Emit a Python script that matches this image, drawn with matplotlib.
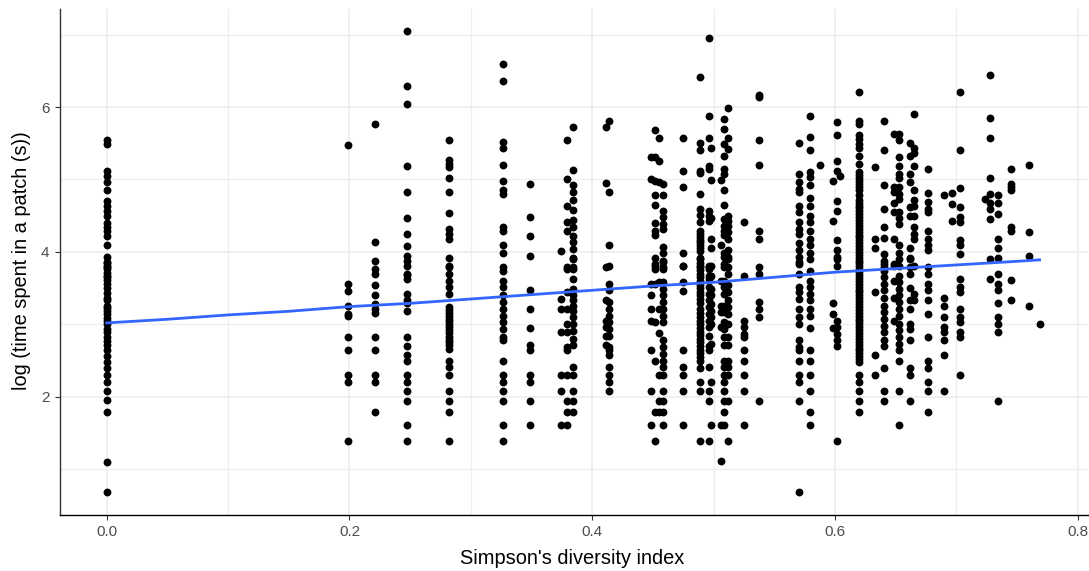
import matplotlib
matplotlib.use("Agg")
import matplotlib.pyplot as plt
import numpy as np

plt.rcParams['font.family'] = ['Liberation Sans', 'DejaVu Sans']

y_0000 = [5.54,5.49,5.12,5.05,4.97,4.85,4.70,4.63,4.57,4.50,4.40,4.34,4.29,4.22,4.09,3.93,3.86,3.79,3.67,3.85,3.81,3.76,3.71,3.66,3.61,3.56,3.50,3.43,3.37,3.33,3.26,3.22,3.18,3.14,3.09,3.04,3.00,2.94,2.89,2.83,2.77,2.71,2.64,2.56,2.48,2.40,2.30,2.20,2.08,1.95,1.79,1.10,0.69]
y_0199 = [5.47,3.56,3.46,3.25,3.14,3.12,2.83,2.65,2.30,2.20,1.39]
y_0221 = [5.77,4.14,3.87,3.76,3.70,3.54,3.41,3.28,3.21,3.16,2.83,2.65,2.30,2.20,1.79]
y_0247 = [7.05,6.29,6.04,5.19,4.83,4.47,4.25,4.08,3.95,3.88,3.81,3.68,3.70,3.63,3.42,3.33,3.30,3.18,2.83,2.70,2.57,2.50,2.30,2.20,2.08,1.94,1.61,1.39]
y_0282 = [5.54,5.27,5.21,5.17,5.02,4.83,4.54,4.32,4.25,4.18,3.91,3.80,3.70,3.79,3.60,3.51,3.42,3.24,3.20,3.16,3.12,3.08,3.04,3.00,2.96,2.92,2.88,2.83,2.79,2.75,2.71,2.66,2.50,2.41,2.30,2.08,1.94,1.79,1.39]
y_0327 = [6.59,6.36,5.52,5.44,5.20,4.98,4.85,4.80,4.34,4.29,4.09,3.99,3.79,3.74,3.60,3.51,3.40,3.31,3.21,3.12,3.03,2.94,2.82,2.78,2.49,2.30,2.20,2.08,1.94,1.61,1.39]
y_0349 = [4.94,4.48,4.22,3.95,3.47,3.21,2.95,2.71,2.64,2.30,2.20,1.94,1.61]
y_0374 = [4.01,3.35,3.21,2.89,2.30,2.08,1.61]
y_0380 = [5.55,5.00,4.64,4.41,4.29,3.79,3.77,3.44,3.21,3.00,2.89,2.69,2.64,2.30,1.94,1.79,1.61]
y_0384 = [5.72,5.13,4.92,4.82,4.72,4.58,4.44,4.34,4.22,4.13,4.04,3.92,3.79,3.90,3.77,3.63,3.49,3.40,3.33,3.26,3.19,3.10,3.00,2.91,2.80,2.71,2.41,2.30,2.08,1.94,1.79]
y_0411 = [5.72,4.95,3.79,3.33,3.05,2.96,2.84,2.72]
y_0414 = [5.81,4.83,4.09,3.81,3.56,3.47,3.31,3.21,3.12,3.03,2.94,2.84,2.69,2.64,2.57,2.41,2.30,2.20,2.08]
y_0449 = [5.31,5.00,3.56,3.41,3.21,3.05,2.65,2.08,1.61]
y_0452 = [5.68,5.31,4.98,4.79,4.65,4.40,4.29,4.23,3.92,3.81,3.83,3.77,3.56,3.03,2.49,1.79,1.39]
y_0455 = [5.57,5.26,4.96,3.58,3.21,2.88,2.30,1.94,1.79]
y_0459 = [4.94,4.79,4.56,4.48,4.39,4.32,4.07,3.99,3.88,3.79,3.86,3.77,3.58,3.49,3.40,3.31,3.21,3.12,3.03,2.78,2.69,2.59,2.50,2.41,2.30,2.08,1.94,1.79,1.61]
y_0475 = [5.57,5.11,4.90,3.99,3.80,3.81,3.59,3.46,2.65,2.41,2.30,2.08,1.61]
y_0489 = [6.42,5.51,5.40,5.12,5.09,4.80,4.59,4.51,4.41,4.29,4.25,4.21,4.17,4.13,4.09,4.05,4.01,3.92,3.79,3.90,3.85,3.80,3.75,3.70,3.65,3.60,3.55,3.50,3.45,3.40,3.35,3.30,3.21,3.15,3.10,3.05,3.00,2.95,2.90,2.85,2.80,2.75,2.70,2.65,2.60,2.55,2.49,2.40,2.20,2.08,1.39]
y_0496 = [6.95,5.87,5.57,5.19,5.15,4.56,4.50,4.43,3.79,3.81,3.77,3.67,3.63,3.51,3.42,3.33,3.24,3.14,3.05,2.96,2.84,2.70,2.64,2.41,2.08,1.94,1.39]
y_0498 = [5.43,4.99,4.47,4.18,4.06,3.81,3.67,3.49,3.40,3.28,3.19,3.10,3.00,2.73,2.20,1.61]
y_0506 = [4.99,4.09,3.60,3.26,3.17,2.96,1.61,1.11]
y_0509 = [5.83,5.70,5.49,5.32,5.15,5.08,4.86,4.65,4.46,4.36,4.29,4.23,3.99,3.93,3.79,3.83,3.60,3.51,3.42,3.26,3.17,3.03,2.94,2.82,2.71,2.50,2.41,2.30,2.20,2.08,1.94,1.79,1.61]
y_0512 = [5.99,5.57,5.42,4.50,4.43,4.36,4.27,4.18,4.02,3.93,3.79,3.90,3.70,3.54,3.44,3.33,3.24,3.14,3.00,2.82,2.71,2.50,2.41,2.30,1.94,1.39]
y_0525 = [4.41,3.67,3.05,2.96,2.87,2.82,2.65,2.49,2.30,2.08,1.61]
y_0538 = [6.17,6.14,5.55,5.20,4.29,4.18,3.79,3.70,3.31,3.21,3.10,1.94]
y_0571 = [5.51,5.08,4.96,4.87,4.82,4.64,4.55,4.41,4.32,4.25,4.12,4.02,3.93,3.83,3.86,3.70,3.51,3.44,3.35,3.21,3.10,3.00,2.78,2.69,2.64,2.49,2.30,2.20,1.94,0.69]
y_0580 = [5.87,5.58,5.40,5.10,5.04,4.92,4.74,4.64,4.50,4.41,4.29,4.18,4.09,3.99,3.90,3.74,3.60,3.51,3.42,3.33,3.21,3.12,2.95,2.65,2.49,2.30,2.08,1.79,1.61]
y_0588 = [5.20]
y_0599 = [4.98,4.42,3.29,3.14,2.95]
y_0601 = [5.79,5.62,5.25,5.11,4.70,4.56,4.16,4.02,3.93,3.81,3.90,3.05,2.96,2.87,2.78,2.70,1.39]
y_0604 = [5.05]
y_0620 = [6.21,5.81,5.77,5.61,5.56,5.49,5.43,5.33,5.22,5.10,5.06,5.02,4.98,4.94,4.90,4.85,4.79,4.72,4.68,4.64,4.60,4.56,4.52,4.48,4.44,4.40,4.36,4.32,4.28,4.24,4.20,4.16,4.12,4.08,4.04,4.00,3.96,3.92,3.88,3.84,3.80,3.76,3.72,3.68,3.64,3.60,3.56,3.52,3.48,3.44,3.40,3.36,3.32,3.28,3.24,3.20,3.16,3.12,3.08,3.04,3.00,2.96,2.92,2.88,2.84,2.80,2.76,2.72,2.68,2.64,2.60,2.56,2.52,2.48,2.30,2.20,2.08,1.94,1.79]
y_0633 = [5.17,4.18,4.06,3.44,2.57,2.30]
y_0641 = [5.81,5.41,4.92,4.59,4.35,4.19,3.97,3.88,3.79,3.83,3.74,3.65,3.56,3.47,3.37,3.26,3.17,3.08,2.98,2.89,2.78,2.70,2.40,2.08,1.94]
y_0649 = [5.63,4.89,4.82,4.67,4.55,4.18,3.81,3.83,3.60,3.37,3.05]
y_0652 = [5.63,5.54,5.31,5.19,5.08,5.02,4.89,4.80,4.73,4.55,4.47,4.39,4.09,3.99,3.90,3.81,3.67,3.58,3.49,3.40,3.31,3.21,3.12,3.00,2.92,2.82,2.73,2.64,2.49,2.08,1.61]
y_0662 = [5.50,5.33,5.08,4.96,4.62,4.50,4.06,3.91,3.79,3.90,3.70,3.50,3.33,3.21,3.00,2.94,2.78,2.40,2.30,1.94]
y_0665 = [5.90,5.44,5.37,5.19,4.85,4.71,4.64,4.50,4.34,4.25,4.18,3.81,3.42,3.33]
y_0677 = [5.14,4.81,4.69,4.59,4.55,4.29,4.18,4.09,4.02,3.79,3.70,3.56,3.47,3.33,3.14,2.83,2.50,2.40,2.20,2.08,1.79]
y_0690 = [4.78,3.36,3.25,3.10,2.96,2.89,2.78,2.57,2.08]
y_0696 = [4.81,4.66,4.42]
y_0703 = [6.21,5.41,4.88,4.62,4.48,4.41,4.16,4.09,3.97,3.63,3.51,3.44,3.21,3.10,3.03,2.89,2.82,2.30]
y_0724 = [4.73]
y_0728 = [6.44,5.85,5.57,5.02,4.80,4.68,4.59,4.45,3.90,3.63]
y_0734 = [4.78,4.68,4.52,4.18,4.06,3.92,3.70,3.56,3.47,3.29,3.10,3.00,2.89,1.94]
y_0745 = [5.15,4.94,4.89,4.85,4.34,4.29,3.61,3.33]
y_0760 = [5.20,4.28,3.94,3.25]
y_0769 = [3.00]

x_levels = [0.0,.199,.2213,.2473,.2822,.3267,.349,.3743,.3795,.3844,.4114,.4139,.4485,.4518,.4553,.4586,.4751,.489,.4963,.4982,.5062,.5087,.5122,.5254,.5378,.5707,.5798,.5878,.5988,.6013,.6043,.6202,.6326,.6408,.649,.6524,.662,.6648,.677,.6895,.6964,.7032,.7238,.728,.734,.7447,.7595,.7686]
y_levels = [y_0000,y_0199,y_0221,y_0247,y_0282,y_0327,y_0349,y_0374,y_0380,y_0384,y_0411,y_0414,y_0449,y_0452,y_0455,y_0459,y_0475,y_0489,y_0496,y_0498,y_0506,y_0509,y_0512,y_0525,y_0538,y_0571,y_0580,y_0588,y_0599,y_0601,y_0604,y_0620,y_0633,y_0641,y_0649,y_0652,y_0662,y_0665,y_0677,y_0690,y_0696,y_0703,y_0724,y_0728,y_0734,y_0745,y_0760,y_0769]

smooth_x = [0,.01,.05,.1,.15,.2,.25,.3,.35,.4,.45,.5,.55,.6,.65,.7,.75,.7686]
smooth_y = [3.02,3.03,3.07,3.13,3.18,3.245,3.29,3.35,3.41,3.47,3.53,3.58,3.65,3.72,3.77,3.82,3.87,3.89]

W, H = 1089, 571
fig = plt.figure(figsize=(W/100, H/100), dpi=100)
L, R, T, B = 60, 1088, 8.5, 514.5
ax = fig.add_axes([L/W, 1-B/H, (R-L)/W, (B-T)/H])

ax.set_axisbelow(True)
ax.grid(True, which='major', color='#ebebeb', lw=1.1)
ax.grid(True, which='minor', color='#eeeeee', lw=0.9)
ax.set_xticks([0.1,0.3,0.5,0.7], minor=True)
ax.set_yticks([1,3,5,7], minor=True)
ax.tick_params(which='minor', length=0)

for xv, ys in zip(x_levels, y_levels):
    ax.scatter([xv]*len(ys), ys, s=32, c='black', linewidths=0, zorder=3)
ax.plot(smooth_x, smooth_y, color='#3366FF', lw=2.0, zorder=4)

ax.set_xticks([0,0.2,0.4,0.6,0.8])
ax.set_xticklabels(['0.0','0.2','0.4','0.6','0.8'])
ax.set_yticks([2,4,6])
ax.tick_params(axis='both', which='major', labelsize=11, labelcolor='#4d4d4d', length=3.6, width=0.8, color='#333333', pad=4)
ax.set_xlim(-0.0385, 0.8085)
ax.set_ylim(0.375, 7.36)
for s in ['top','right']:
    ax.spines[s].set_visible(False)
ax.spines['left'].set_linewidth(1.0)
ax.spines['left'].set_color('#333333')
ax.spines['bottom'].set_linewidth(1.0)
ax.spines['bottom'].set_color('black')

fig.text(572.5/W, 1-558/H, "Simpson's diversity index", fontsize=14.4, ha='center', va='center', color='black')
fig.text(22/W, 1-261/H, "log (time spent in a patch (s))", fontsize=14.4, ha='center', va='center', rotation=90, color='black')

fig.savefig('out.png', dpi=100)
